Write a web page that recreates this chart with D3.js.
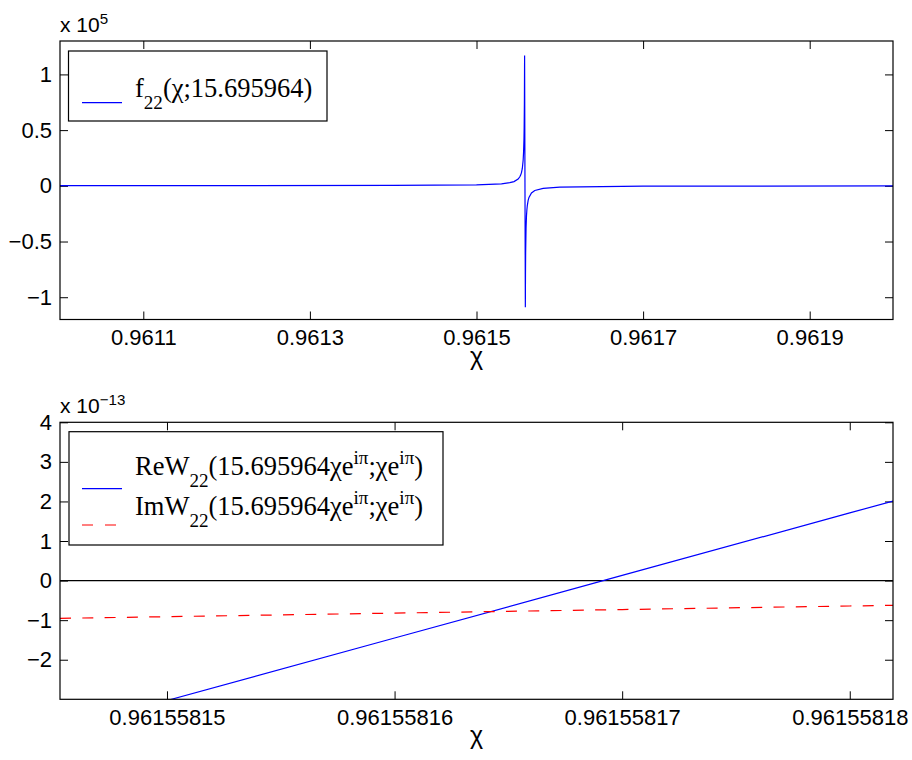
<!DOCTYPE html>
<html>
<head>
<meta charset="utf-8">
<script src="https://cdn.jsdelivr.net/npm/d3@7"></script>
<style>
    body { margin: 0; background: #fff; }
    .tick line { stroke: #000; }
    .tick text { font-family: "Liberation Sans", Arial, sans-serif; font-size: 22px; fill: #000; }
</style>
</head>
<body>
<div id="chart"></div>
<script>
// top panel: f22(chi; 15.695964), values in units of 1e5
const topX = [0.9610, 0.9612, 0.9614, 0.9615, 0.96153, 0.96154, 0.961545, 0.961550, 0.961552,
    0.961553, 0.961554, 0.961555, 0.961556, 0.9615565, 0.961557, 0.9615572, 0.9615575, 0.96155774,
    0.96155863, 0.9615588, 0.9615590, 0.9615595, 0.961560, 0.9615605, 0.961561, 0.961562,
    0.961563, 0.961566, 0.96157, 0.96158, 0.9616, 0.9617, 0.9618, 0.9620];
const topY = [0.0009, 0.0014, 0.0032, 0.0086, 0.018, 0.028, 0.038, 0.061, 0.081,
    0.096, 0.119, 0.156, 0.23, 0.30, 0.42, 0.515, 0.75, 1.17,
    -1.09, -0.79, -0.6, -0.376, -0.27, -0.215, -0.177, -0.13,
    -0.104, -0.064, -0.042, -0.023, -0.012, -0.0035, -0.0021, -0.0011];
const topXTicks = [0.9611, 0.9613, 0.9615, 0.9617, 0.9619];
const topYTicks = [-1, -0.5, 0, 0.5, 1];

// bottom panel: Re / Im of W22, values in units of 1e-13
const botX = [0.9615581453, 0.96155815, 0.96155816, 0.96155817, 0.96155818, 0.9615581819];
const reW = [-3.77, -3.03, -1.45, 0.13, 1.71, 2.01];
const imW = [-0.955, -0.912, -0.822, -0.732, -0.642, -0.625];
const botXTicks = [0.96155815, 0.96155816, 0.96155817, 0.96155818];
const botYTicks = [-2, -1, 0, 1, 2, 3, 4];

const width = 912, height = 760;
const left = 60, right = 893;

const svg = d3.select("#chart").append("svg")
    .attr("width", width)
    .attr("height", height);

function minus(d) {
    return String(d).replace("-", "\u2212");
}

// writes a line of text made of normal / sub / sup pieces
function richText(g, x, y, parts, size, family) {
    let t = g.append("text")
        .attr("x", x)
        .attr("y", y)
        .style("font-family", family)
        .style("font-size", size + "px");
    let shift = 0;
    parts.forEach(p => {
        let target = p[1] === "sub" ? 0.44 * size : p[1] === "sup" ? -0.4 * size : 0;
        t.append("tspan")
            .attr("dy", target - shift)
            .style("font-size", p[1] === "n" ? size + "px" : (0.72 * size) + "px")
            .text(p[0]);
        shift = target;
    });
    return t;
}

function panel(cfg) {
    let x = d3.scaleLinear().domain(cfg.xDomain).range([left, right]);
    let y = d3.scaleLinear().domain(cfg.yDomain).range([cfg.bottom, cfg.top]);
    let g = svg.append("g");

    g.append("clipPath").attr("id", cfg.id)
        .append("rect")
        .attr("x", left).attr("y", cfg.top)
        .attr("width", right - left).attr("height", cfg.bottom - cfg.top);

    // axes, ticks inside on all four sides
    let axes = [
        [d3.axisBottom(x).tickValues(cfg.xTicks).tickFormat(cfg.xFormat), "translate(0," + cfg.bottom + ")"],
        [d3.axisTop(x).tickValues(cfg.xTicks).tickFormat(""), "translate(0," + cfg.top + ")"],
        [d3.axisLeft(y).tickValues(cfg.yTicks).tickFormat(minus), "translate(" + left + ",0)"],
        [d3.axisRight(y).tickValues(cfg.yTicks).tickFormat(""), "translate(" + right + ",0)"]
    ];
    axes.forEach(a => {
        let ax = g.append("g")
            .attr("transform", a[1])
            .call(a[0].tickSizeInner(-8).tickSizeOuter(0).tickPadding(a === axes[0] ? 10 : 8));
        ax.select(".domain").remove();
    });

    // zero line
    if (cfg.zeroLine) {
        g.append("line")
            .attr("x1", left).attr("x2", right)
            .attr("y1", y(0)).attr("y2", y(0))
            .attr("stroke", "#000").attr("stroke-width", 1.2);
    }

    cfg.series.forEach(s => {
        let line = d3.line().x((d, i) => x(cfg.xs[i])).y(d => y(d));
        g.append("path")
            .datum(s.values)
            .attr("clip-path", "url(#" + cfg.id + ")")
            .attr("fill", "none")
            .attr("stroke", s.color)
            .attr("stroke-width", 1.2)
            .attr("stroke-dasharray", s.dash)
            .attr("d", line);
    });

    // box
    g.append("rect")
        .attr("x", left).attr("y", cfg.top)
        .attr("width", right - left).attr("height", cfg.bottom - cfg.top)
        .attr("fill", "none").attr("stroke", "#000").attr("stroke-width", 1.2);

    // x label
    g.append("text")
        .attr("x", (left + right) / 2)
        .attr("y", cfg.bottom + 45)
        .attr("text-anchor", "middle")
        .style("font-family", "'Liberation Sans', Arial, sans-serif")
        .style("font-size", "25px")
        .text("\u03c7");

    // exponent
    richText(g, left, cfg.top - 9, [["x 10", "n"], [cfg.exponent, "sup"]], 21, "'Liberation Sans', Arial, sans-serif");

    // legend
    let L = cfg.legend;
    g.append("rect")
        .attr("x", L.x0).attr("y", L.y0)
        .attr("width", L.x1 - L.x0).attr("height", L.y1 - L.y0)
        .attr("fill", "#fff").attr("stroke", "#000").attr("stroke-width", 1.2);
    L.items.forEach((it, i) => {
        g.append("line")
            .attr("x1", 82).attr("x2", it.dash ? 116 : 122)
            .attr("y1", it.sampleY).attr("y2", it.sampleY)
            .attr("stroke", cfg.series[i].color)
            .attr("stroke-width", 1.2)
            .attr("stroke-dasharray", it.dash);
        richText(g, 135, it.baseline, it.parts, 26.5, "'Liberation Serif', 'Times New Roman', serif");
    });
}

panel({
    id: "clipTop",
    xDomain: [0.9610, 0.9620], yDomain: [-1.2, 1.3],
    top: 41, bottom: 319.5,
    xTicks: topXTicks, yTicks: topYTicks,
    xFormat: d3.format(".4f"),
    xs: topX,
    series: [{ values: topY, color: "#0000ff", dash: null }],
    exponent: "5",
    legend: {
        x0: 68.5, y0: 51, x1: 327, y1: 121,
        items: [{ sampleY: 102.7, baseline: 97, dash: null,
            parts: [["f", "n"], ["22", "sub"], ["(\u03c7;15.695964)", "n"]] }]
    }
});

panel({
    id: "clipBot",
    xDomain: [botX[0], botX[botX.length - 1]], yDomain: [-3, 4],
    top: 422.3, bottom: 699.3,
    xTicks: botXTicks, yTicks: botYTicks,
    xFormat: d3.format(".8f"),
    xs: botX,
    zeroLine: true,
    series: [
        { values: reW, color: "#0000ff", dash: null },
        { values: imW, color: "#ff0000", dash: "11,11.3" }
    ],
    exponent: "\u221213",
    legend: {
        x0: 69, y0: 431.7, x1: 443, y1: 545,
        items: [
            { sampleY: 488.7, baseline: 475, dash: null,
                parts: [["ReW", "n"], ["22", "sub"], ["(15.695964\u03c7e", "n"], ["i\u03c0", "sup"], [";\u03c7e", "n"], ["i\u03c0", "sup"], [")", "n"]] },
            { sampleY: 525, baseline: 515, dash: "11,12",
                parts: [["ImW", "n"], ["22", "sub"], ["(15.695964\u03c7e", "n"], ["i\u03c0", "sup"], [";\u03c7e", "n"], ["i\u03c0", "sup"], [")", "n"]] }
        ]
    }
});
</script>
</body>
</html>
